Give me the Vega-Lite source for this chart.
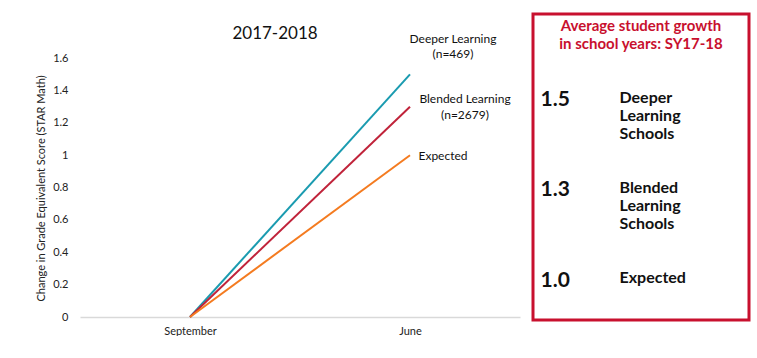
{
  "$schema": "https://vega.github.io/schema/vega-lite/v6.json",
  "background": "white",
  "padding": {"left": 35, "top": 12, "right": 0, "bottom": 0},
  "spacing": 11,
  "config": {
    "font": "Lato",
    "view": {"stroke": null},
    "title": {"font": "Lato"},
    "axis": {"labelFont": "Lato", "titleFont": "Lato"}
  },
  "hconcat": [
    {
      "width": 440,
      "height": 303,
      "title": {
        "text": "2017-2018",
        "fontSize": 17,
        "fontWeight": "normal",
        "color": "#111",
        "anchor": "middle",
        "dx": -25,
        "offset": -29
      },
      "data": {
        "values": [
          {"series": "Deeper Learning", "month": "September", "value": 0, "label": ""},
          {"series": "Deeper Learning", "month": "June", "value": 1.5, "label": "Deeper Learning\n(n=469)"},
          {"series": "Blended Learning", "month": "September", "value": 0, "label": ""},
          {"series": "Blended Learning", "month": "June", "value": 1.3, "label": "Blended Learning\n(n=2679)"},
          {"series": "Expected", "month": "September", "value": 0, "label": ""},
          {"series": "Expected", "month": "June", "value": 1.0, "label": "Expected"}
        ]
      },
      "encoding": {
        "x": {
          "field": "month",
          "type": "ordinal",
          "sort": ["September", "June"],
          "scale": {"type": "point", "padding": 0.5},
          "axis": {
            "title": null,
            "labelAngle": 0,
            "ticks": false,
            "grid": false,
            "domainColor": "#d9d9d9",
            "domainWidth": 1.5,
            "labelFontSize": 11,
            "labelColor": "#222",
            "labelPadding": 8
          }
        },
        "y": {
          "field": "value",
          "type": "quantitative",
          "scale": {"domain": [0, 1.873], "nice": false},
          "axis": {
            "title": "Change in Grade Equivalent Score (STAR Math)",
            "titleFontSize": 11,
            "titleFontWeight": "normal",
            "titleColor": "#222",
            "titlePadding": 6,
            "titleY": 174,
            "values": [0, 0.2, 0.4, 0.6, 0.8, 1, 1.2, 1.4, 1.6],
            "format": "~g",
            "domain": false,
            "ticks": false,
            "grid": false,
            "labelFontSize": 11,
            "labelColor": "#222",
            "labelPadding": 12
          }
        },
        "color": {
          "field": "series",
          "type": "nominal",
          "scale": {
            "domain": ["Deeper Learning", "Blended Learning", "Expected"],
            "range": ["#1a9bb0", "#c0233a", "#f47b20"]
          },
          "legend": null
        }
      },
      "layer": [
        {"mark": {"type": "line", "strokeWidth": 2}},
        {
          "transform": [{"filter": "datum.series === 'Deeper Learning' && datum.month === 'June'"}],
          "mark": {"type": "text", "align": "center", "baseline": "alphabetic", "dx": 43, "dy": -31.7, "fontSize": 12, "lineHeight": 15, "lineBreak": "\n"},
          "encoding": {"text": {"field": "label"}, "color": {"value": "#111"}}
        },
        {
          "transform": [{"filter": "datum.series === 'Blended Learning' && datum.month === 'June'"}],
          "mark": {"type": "text", "align": "center", "baseline": "alphabetic", "dx": 55, "dy": -3.2, "fontSize": 12, "lineHeight": 16, "lineBreak": "\n"},
          "encoding": {"text": {"field": "label"}, "color": {"value": "#111"}}
        },
        {
          "transform": [{"filter": "datum.series === 'Expected' && datum.month === 'June'"}],
          "mark": {"type": "text", "align": "center", "baseline": "alphabetic", "dx": 33, "dy": 4.3, "fontSize": 12, "lineBreak": "\n"},
          "encoding": {"text": {"field": "label"}, "color": {"value": "#111"}}
        }
      ]
    },
    {
      "width": 216,
      "height": 306,
      "view": {"stroke": "#c8102e", "strokeWidth": 3},
      "title": {
        "text": ["Average student growth", "in school years: SY17-18"],
        "color": "#c8102e",
        "fontSize": 15,
        "fontWeight": "bold",
        "lineHeight": 17.7,
        "anchor": "middle",
        "baseline": "top",
        "offset": -38
      },
      "data": {
        "values": [
          {"group": "Deeper Learning Schools", "value": 1.5, "label": "Deeper\nLearning\nSchools"},
          {"group": "Blended Learning Schools", "value": 1.3, "label": "Blended\nLearning\nSchools"},
          {"group": "Expected", "value": 1.0, "label": "Expected"}
        ]
      },
      "encoding": {
        "y": {
          "field": "group",
          "type": "nominal",
          "sort": ["Deeper Learning Schools", "Blended Learning Schools", "Expected"],
          "scale": {"type": "point", "padding": 0.6925, "align": 0.708},
          "axis": null
        }
      },
      "layer": [
        {
          "mark": {"type": "text", "align": "left", "baseline": "alphabetic", "dy": 3.2, "fontSize": 21, "fontWeight": "bold", "color": "#111"},
          "encoding": {
            "x": {"datum": "num", "type": "nominal", "scale": {"type": "point", "domain": ["num", "label"], "padding": 0.867, "align": 0.0547}, "axis": null},
            "text": {"field": "value", "type": "quantitative", "format": ".1f"}
          }
        },
        {
          "mark": {"type": "text", "align": "left", "baseline": "alphabetic", "fontSize": 16, "fontWeight": "bold", "lineHeight": 18, "lineBreak": "\n", "color": "#111"},
          "encoding": {
            "x": {"datum": "label", "type": "nominal", "scale": {"type": "point", "domain": ["num", "label"], "padding": 0.867, "align": 0.0547}, "axis": null},
            "text": {"field": "label"}
          }
        }
      ]
    }
  ]
}
